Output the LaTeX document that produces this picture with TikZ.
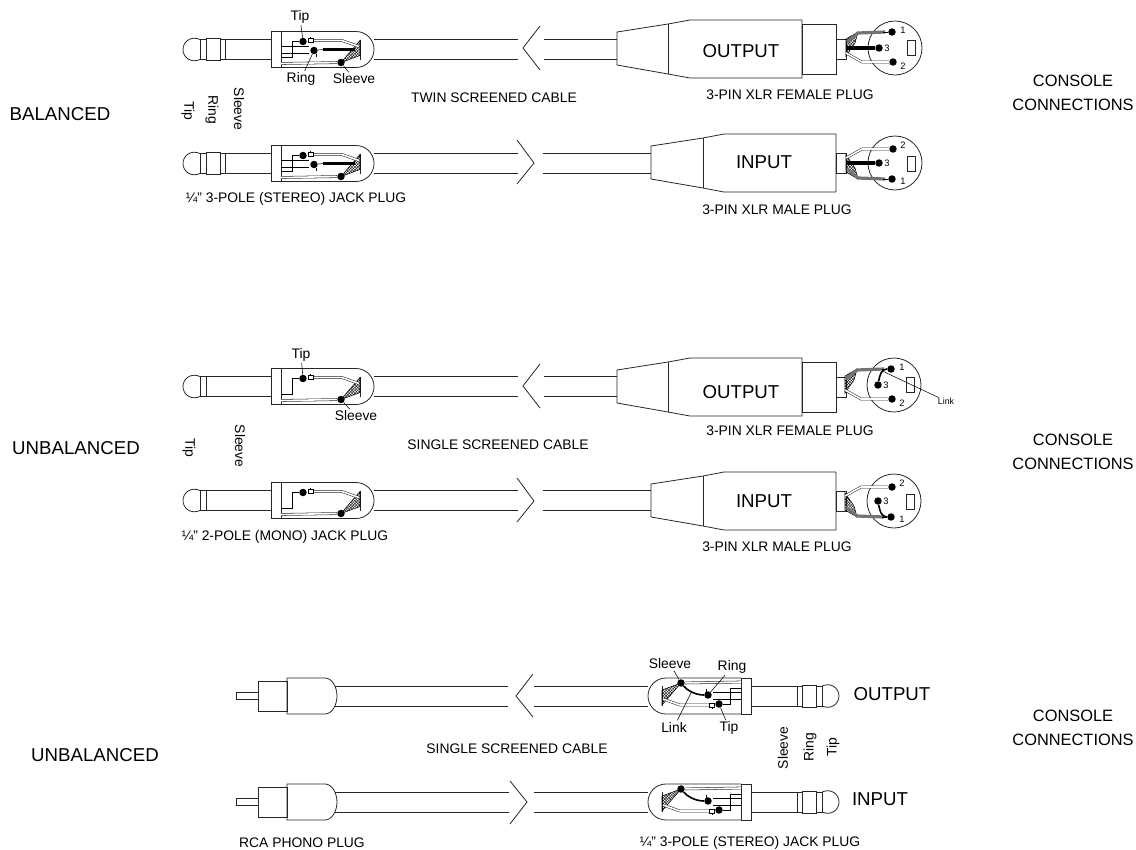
\documentclass[tikz,border=0pt]{standalone}
\usepackage{fontspec}
\setmainfont{Liberation Sans}
\usepackage{tikz}
\usetikzlibrary{calc,positioning,patterns.meta}
\tikzset{
  wire/.style={line width=0.6pt, black!85},
  leader/.style={line width=0.4pt},
  tube/.style={draw=black!85, double=white, line width=0.4pt, double distance=1.2pt},
  fatwire/.style={line width=2.4pt, black},
  linkwire/.style={line width=1.2pt, black},
  braid/.style={line width=2.4pt, black!55},
  mesh/.style={pattern={Lines[angle=45,distance=1.5pt,line width=0.3pt]},
    postaction={pattern={Lines[angle=-45,distance=1.5pt,line width=0.3pt]}}},
  pindot/.style={circle, fill=black, inner sep=0pt, minimum size=5.6pt},
  biglabel/.style={font=\fontsize{14}{18}\selectfont, align=center, inner sep=0pt},
  sidelabel/.style={font=\fontsize{12.3}{18}\selectfont, align=center, inner sep=0pt},
  smalllabel/.style={font=\fontsize{10.4}{12}\selectfont, inner sep=1pt},
  pinlabel/.style={font=\fontsize{7}{8}\selectfont, inner sep=0pt}
}
\newcommand{\plugshell}[1]{
  \draw[wire] (0,-18) rectangle (10,18);
  \draw[wire] (10,-18) -- (85,-18) .. controls (95,-18) and (103,-10) .. (103,0)
    .. controls (103,10) and (95,18) .. (85,18) -- (10,18);
  \draw[wire] (0,-10) -- (-46,-10) (0,10) -- (-46,10);
  \draw[wire] (-71,-10) .. controls (-80,-14) and (-88,-8) .. (-88,0)
    .. controls (-88,8) and (-80,14) .. (-71,10);
  \draw[wire] (-71,-10) rectangle (-65,10);
  \draw[wire] (89,-10) -- (89,10);
  \draw[leader, mesh] (89,-9) -- (89,6) -- (70,13) -- cycle;
  \node[pindot] (#1tip) at (32,-8) {};
  \node[pindot] (#1sleeve) at (70,13) {};
  \draw[leader] (#1tip) -- (21,-8) -- (21,8) -- (10,8);
  \draw[tube] (42,-9) -- (71,-9) -- (88,-3);
  \draw[leader, fill=white] (37,-11) rectangle (42,-7);
  \draw[leader] (39,-13) -- (39,-11);
  \draw[tube] (#1sleeve) -- (10,14);
}
\newcommand{\ringparts}[1]{
  \draw[wire] (-65,-11) rectangle (-51,11);
  \draw[wire] (-51,-10) rectangle (-46,10);
  \draw[leader] (10,-3) -- (38,-3) (10,4) -- (38,4) (45,4) -- (45,7);
  \node[pindot] (#1ring) at (43,1) {};
}
\newcommand{\balancedjack}[2]{
  \begin{scope}[shift={(271,#2)}]
    \plugshell{#1}
    \ringparts{#1}
    \draw[leader] (#1ring) -- (52,0);
    \draw[fatwire] (52,0) -- (84,0);
  \end{scope}
}
\newcommand{\monojack}[2]{
  \begin{scope}[shift={(271,#2)}]
    \plugshell{#1}
    \draw[wire] (-65,-10) -- (-46,-10) (-65,10) -- (-46,10);
  \end{scope}
}
\newcommand{\linkedjack}[2]{
  \begin{scope}[shift={(751,#2)},xscale=-1,yscale=-1]
    \plugshell{#1}
    \ringparts{#1}
    \coordinate (#1bend) at (59,5);
    \draw[linkwire] (#1sleeve) .. controls (64,6) and (56,1) .. (#1ring);
  \end{scope}
}
\newcommand{\rcaplug}[1]{
  \begin{scope}[shift={(0,#1)}]
    \draw[wire] (236,-3.5) rectangle (258,3.5);
    \draw[wire] (258,-15) rectangle (287,15);
    \draw[wire] (287,-18) -- (325,-18) .. controls (332,-18) and (337,-9) .. (337,0)
      .. controls (337,9) and (332,18) .. (325,18) -- (287,18) -- cycle;
  \end{scope}
}
\newcommand{\cablerun}[5]{
  \draw[wire] (#2,#1-10) -- (#3,#1-10) (#2,#1+10) -- (#3,#1+10)
    (#4,#1-10) -- (#5,#1-10) (#4,#1+10) -- (#5,#1+10);
}
\newcommand{\xlrfemale}[1]{
  \begin{scope}[shift={(0,#1)}]
    \draw[wire] (617,-17) -- (668,-25) -- (690,-29) -- (802,-29) -- (802,29) -- (690,29)
      -- (668,25) -- (617,16) -- cycle;
    \draw[wire] (668,-25) -- (668,25);
    \draw[wire] (802,-25) rectangle (836,25);
    \draw[wire] (836,-10) rectangle (846,10);
  \end{scope}
}
\newcommand{\xlrmale}[1]{
  \begin{scope}[shift={(0,#1)}]
    \draw[wire] (651,-17) -- (703,-25) -- (724,-29) -- (836,-29) -- (836,29) -- (724,29)
      -- (703,25) -- (651,16) -- cycle;
    \draw[wire] (703,-25) -- (703,25);
    \draw[wire] (836,-10) rectangle (846,10);
  \end{scope}
}
\newcommand{\xlrhead}[4]{
  \begin{scope}[shift={(#2,#3)},yscale=#4]
    \draw[wire] (0,0) circle (27);
    \draw[wire] (12,-8) rectangle (20,7);
    \node[pindot] (#1a) at (-3,-16) {};
    \node[pindot] (#1c) at (-16,0) {};
    \node[pindot] (#1b) at (-2,14) {};
    \node[pinlabel] (#1la) at (8,-18) {1};
    \node[pinlabel] (#1lc) at (-8,0) {3};
    \node[pinlabel] (#1lb) at (8,18) {2};
    \coordinate (#1o) at (-48,0);
    \draw[leader, mesh] (-49,-9) -- (-37,-16) -- (-40,-5) -- (-49,8) -- cycle;
    \draw[braid] (-48,-6) -- (-37,-15) -- (-10,-16);
    \draw[leader] (-12,-16) -- (#1a);
    \draw[tube] (-49,5) -- (-33,14) -- (#1b);
  \end{scope}
}
\begin{document}
\begin{tikzpicture}[x=0.75pt,y=-0.75pt]
  \useasboundingbox (0,0) rectangle (1136,850);
  % first group
  \balancedjack{ja}{49.5}
  \balancedjack{jb}{163.5}
  \cablerun{49.5}{374}{518}{544}{617}
  \cablerun{163.5}{374}{518}{543}{651}
  \draw[wire] (540,26) -- (523,48) -- (540,70);
  \draw[wire] (517,140) -- (534,163) -- (517,184);
  \xlrfemale{49}
  \xlrmale{163}
  \xlrhead{xa}{895}{48}{1}
  \xlrhead{xb}{895}{163}{-1}
  \draw[fatwire] (xac) -- (xao);
  \draw[fatwire] (xbc) -- (xbo);
  \node[smalllabel] (tipa) at (300,17) {Tip};
  \node[smalllabel] (ringa) at (301,79) {Ring};
  \node[smalllabel] (sleevea) at (354,79) {Sleeve};
  \draw[leader] (tipa) -- (jatip);
  \draw[leader] (ringa) -- (jaring);
  \draw[leader] (sleevea) -- (jasleeve);
  \node[smalllabel, rotate=-90] (tipb) at (188,111) {Tip};
  \node[smalllabel, rotate=-90] (ringb) at (212,110) {Ring};
  \node[smalllabel, rotate=-90] (sleeveb) at (239,109) {Sleeve};
  \node[biglabel] (balanced) at (60,114) {BALANCED};
  \node[sidelabel] (consolea) at (1073,93) {CONSOLE\\CONNECTIONS};
  \node[biglabel] (outa) at (741,51) {OUTPUT};
  \node[biglabel] (ina) at (764,162) {INPUT};
  \node[smalllabel] (twin) at (494,98) {TWIN SCREENED CABLE};
  \node[smalllabel] (xlrfa) at (790,95) {3-PIN XLR FEMALE PLUG};
  \node[smalllabel] (xlrma) at (777,210) {3-PIN XLR MALE PLUG};
  \node[smalllabel] (jacka) at (296,199) {¼" 3-POLE (STEREO) JACK PLUG};
  % second group
  \monojack{jc}{386.5}
  \monojack{jd}{500.5}
  \cablerun{386.5}{374}{518}{544}{617}
  \cablerun{500.5}{374}{518}{543}{651}
  \draw[wire] (540,364) -- (523,386) -- (540,408);
  \draw[wire] (517,478) -- (534,501) -- (517,522);
  \xlrfemale{387}
  \xlrmale{501}
  \xlrhead{xc}{894}{385}{1}
  \xlrhead{xd}{894}{501}{-1}
  \draw[linkwire] (xca) to[out=180,in=80] coordinate[pos=0.35] (xcbend) (xcc);
  \draw[linkwire] (xda) to[out=180,in=-80] (xdc);
  \node[pinlabel, font=\fontsize{6.6}{8}\selectfont] (linkc) at (946,401) {Link};
  \draw[leader] (linkc) -- (xcbend);
  \node[smalllabel] (tipc) at (301,355) {Tip};
  \node[smalllabel] (sleevec) at (356,416) {Sleeve};
  \draw[leader] (tipc) -- (jctip);
  \draw[leader] (sleevec) -- (jcsleeve);
  \node[smalllabel, rotate=-90] (tipd) at (189,448) {Tip};
  \node[smalllabel, rotate=-90] (sleeved) at (240,446) {Sleeve};
  \node[biglabel] (unbala) at (76,448) {UNBALANCED};
  \node[sidelabel] (consoleb) at (1073,452) {CONSOLE\\CONNECTIONS};
  \node[biglabel] (outb) at (741,392) {OUTPUT};
  \node[biglabel] (inb) at (764,501) {INPUT};
  \node[smalllabel] (single) at (498,445) {SINGLE SCREENED CABLE};
  \node[smalllabel] (xlrfb) at (790,431) {3-PIN XLR FEMALE PLUG};
  \node[smalllabel] (xlrmb) at (777,547) {3-PIN XLR MALE PLUG};
  \node[smalllabel] (jackb) at (285,537) {¼" 2-POLE (MONO) JACK PLUG};
  % third group
  \rcaplug{696}
  \rcaplug{802}
  \linkedjack{je}{696}
  \linkedjack{jf}{802}
  \cablerun{696}{335}{508}{534}{648}
  \cablerun{802}{335}{509}{534}{648}
  \draw[wire] (533,674) -- (516,696) -- (533,717);
  \draw[wire] (510,781) -- (527,802) -- (510,824);
  \node[smalllabel] (sleevee) at (670,664) {Sleeve};
  \node[smalllabel] (ringe) at (732,667) {Ring};
  \node[smalllabel] (linke) at (674,727) {Link};
  \node[smalllabel] (tipe) at (729,728) {Tip};
  \draw[leader] (sleevee) -- (jesleeve);
  \draw[leader] (ringe) -- (jering);
  \draw[leader] (linke) -- (jebend);
  \draw[leader] (tipe) -- (jetip);
  \node[smalllabel, rotate=90] (sleevef) at (783,748) {Sleeve};
  \node[smalllabel, rotate=90] (ringf) at (810,747) {Ring};
  \node[smalllabel, rotate=90] (tipf) at (833,747) {Tip};
  \node[biglabel] (unbalb) at (95,755) {UNBALANCED};
  \node[sidelabel] (consolec) at (1073,728) {CONSOLE\\CONNECTIONS};
  \node[biglabel] (oute) at (892,694) {OUTPUT};
  \node[biglabel] (inf) at (880,799) {INPUT};
  \node[smalllabel] (singleb) at (517,749) {SINGLE SCREENED CABLE};
  \node[smalllabel] (rca) at (302,843) {RCA PHONO PLUG};
  \node[smalllabel] (jackc) at (750,843) {¼" 3-POLE (STEREO) JACK PLUG};
\end{tikzpicture}
\end{document}
